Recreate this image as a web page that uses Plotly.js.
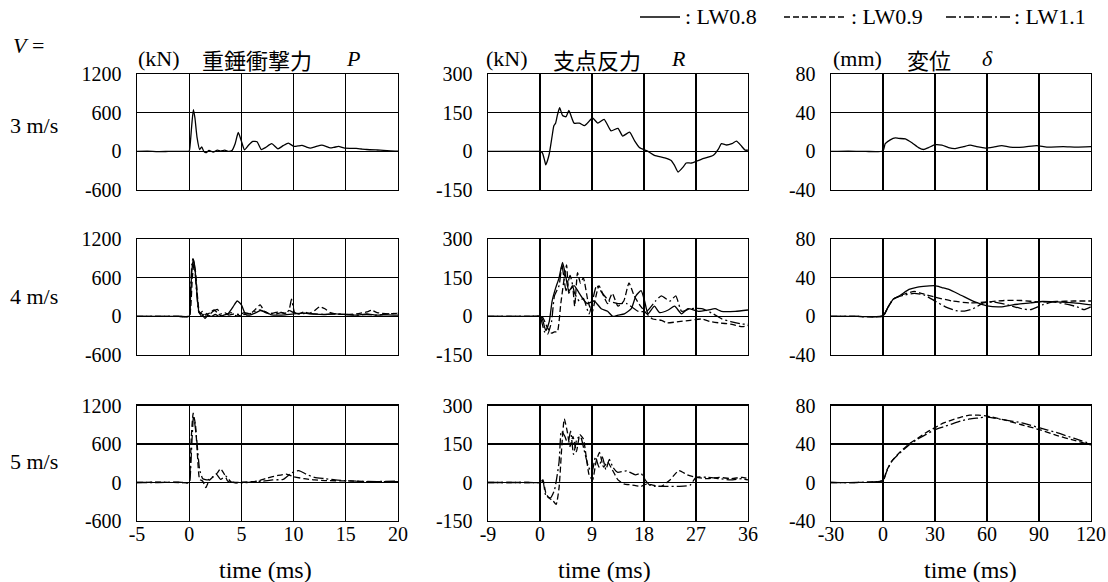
<!DOCTYPE html>
<html>
<head>
<meta charset="utf-8">
<script src="https://cdn.plot.ly/plotly-3.0.1.min.js"></script>
<style>html,body{margin:0;padding:0;background:#fff;}#chart{width:1108px;height:582px;}</style>
</head>
<body>
<div id="chart"></div>
<script>
// ---------- tick labels ----------
const xTicksP = [-5, 0, 5, 10, 15, 20];
const xTicksR = [-9, 0, 9, 18, 27, 36];
const xTicksD = [-30, 0, 30, 60, 90, 120];
const yTicksP = [-600, 0, 600, 1200];
const yTicksR = [-150, 0, 150, 300];
const yTicksD = [-40, 0, 40, 80];
const rowLabels = ["3 m/s", "4 m/s", "5 m/s"];
const seriesNames = [": LW0.8", ": LW0.9", ": LW1.1"];

// ---------- V = 3 m/s (LW0.8) ----------
const p3_t = [-5,-4,-3,-2,-1,-0.3,0,0.1,0.25,0.4,0.55,0.75,1.0,1.2,1.4,1.6,1.9,2.3,2.7,3.0,3.4,3.8,4.1,4.4,4.7,5.0,5.3,5.7,6.1,6.5,6.9,7.3,7.9,8.5,9.0,9.5,10.0,10.4,10.8,11.2,11.6,12.1,12.7,13.1,13.5,13.9,14.3,14.9,15.5,16.0,16.5,17.0,18.0,18.6,19.3,20];
const p3_lw08 = [0,3,-3,0,2,0,5,120,420,650,520,220,30,70,0,-20,15,-10,20,5,20,0,15,120,295,160,25,100,155,150,30,60,120,40,90,130,80,85,93,70,52,75,98,80,55,65,78,50,48,47,38,30,22,18,10,5];

const r3_t = [-9,-6,-3,-1,0,0.4,0.8,1.0,1.3,1.6,2.1,2.4,2.7,3.0,3.4,3.9,4.5,5.0,5.5,5.9,6.8,7.7,8.2,9.1,10.0,11.1,12.3,13.5,14.3,15.5,16.4,17.2,18.7,19.8,21.6,22.7,23.3,23.9,24.8,25.3,26.2,28.0,30.0,30.9,31.4,32.3,33.2,34.0,34.9,35.5,36];
const r3_lw08 = [0,0,0,0,0,-5,-35,-52,-35,-10,60,100,110,140,170,140,135,160,130,110,110,100,110,130,110,125,80,90,60,75,40,15,0,-15,-25,-35,-55,-80,-60,-45,-45,-30,-15,10,30,25,30,40,20,5,5];

const d3_t = [-30,-20,-10,0,1.3,4.2,7.1,9,12.9,16.7,20.5,23.4,26.3,30.1,34,37.8,41.7,46.5,50.3,54,59,63.7,68.5,73.3,81,88.7,94.5,104,111.7,120];
const d3_lw08 = [0,0.3,0,0.5,8,12,14,13.5,13,9,4,2,4,7,6.5,4,3,5,6.5,5,3.5,4.5,6,4.5,4.5,6,4.5,5,4.5,5];

// ---------- V = 4 m/s ----------
const p4_lw08_t = [-5,-3,-1,0,0.1,0.25,0.4,0.55,0.75,0.95,1.2,1.5,1.8,2.1,2.5,2.9,3.3,3.7,4.2,4.6,5.0,5.4,5.8,6.3,6.8,7.3,7.8,8.5,9.2,10,11,12,13,14,15,16,17,18,19,20];
const p4_lw08 = [0,2,0,5,200,700,890,750,350,60,40,-30,20,0,30,0,20,40,150,240,180,30,20,50,90,70,30,20,25,40,50,35,30,40,30,20,40,20,25,20];
const p4_lw09_t = [-5,-3,-1,0,0.15,0.3,0.45,0.6,0.8,1.0,1.3,1.6,2.0,2.4,2.8,3.2,3.6,4.0,4.5,5.0,5.5,6.0,6.4,6.8,7.2,7.7,8.2,8.7,9.2,9.6,10.0,10.5,11,11.5,12,12.5,13,13.5,14,15,16,17,17.5,18,19,20];
const p4_lw09 = [0,0,0,0,150,600,820,700,300,50,80,20,60,100,40,0,30,60,10,20,40,60,120,180,80,40,60,70,50,90,60,40,70,50,90,150,120,60,40,30,40,70,95,60,40,50];
const p4_lw11_t = [-5,-3,-1,0,0.1,0.25,0.35,0.5,0.7,0.9,1.2,1.5,1.9,2.3,2.7,3.0,3.4,3.8,4.3,4.8,5.3,5.8,6.3,6.8,7.3,7.8,8.3,8.8,9.3,9.6,9.8,10.1,10.6,11.2,12,13,14,15,16,17,18,19,20];
const p4_lw11 = [0,0,0,5,300,800,900,800,400,80,0,50,30,80,110,40,60,20,40,30,60,40,80,100,60,50,40,60,40,120,270,60,40,50,40,30,40,30,20,30,20,40,50];

const r4_lw08_t = [-9,-5,-2,0,0.4,1.0,1.6,2.1,2.7,3.3,3.9,4.5,5.0,5.9,6.8,7.7,8.2,9.4,10.6,11.7,12.6,13.5,14.6,15.8,16.6,17.5,18.1,18.7,19.8,20.7,22.2,23.3,24.5,25.6,27.4,29.1,30.3,31.4,33.8,36];
const r4_lw08 = [0,0,0,0,-10,-55,-20,60,110,150,210,150,100,120,90,60,50,60,30,20,0,5,10,30,80,100,60,10,40,15,25,40,10,30,20,25,30,20,20,25];
const r4_lw09_t = [-9,-5,-2,0,0.5,1.2,2.0,2.5,3.0,3.6,4.2,4.6,5.0,5.6,6.0,6.5,7.0,7.5,8.3,9.0,9.5,10.2,11.0,11.7,12.5,13.5,14.5,15.4,16.3,17.4,18.5,19.5,21,22,24,26,28,29.5,31,33,35,36];
const r4_lw09 = [0,0,0,0,-5,-40,-65,-60,-60,50,150,200,90,120,40,170,130,150,60,15,60,120,80,50,90,40,60,130,80,40,10,-10,-15,-25,-20,-15,-10,-20,-25,-30,-40,-35];
const r4_lw11_t = [-9,-5,-2,0,0.4,0.8,1.3,2.0,2.5,3.3,3.8,4.5,5.2,6.0,6.8,7.5,8.5,9.8,10.8,12,13.5,15,17,18.5,20,21,22.5,23.5,24.5,26,28,30,31.5,33,35,36];
const r4_lw11 = [0,0,0,0,-30,-60,-70,-20,80,120,200,100,160,90,60,70,10,120,90,60,50,50,20,20,60,80,60,80,20,30,30,10,-10,-20,-30,-30];

const d4_lw08_t = [-30,-15,0,3,6,10,15,20,25,30,34,38,45,53,60,68,75,85,92,100,110,120];
const d4_lw08 = [0,0,0.5,10,18,22,28,30.5,31.5,32,30,28,22,15,11,10,12,14,15.5,15,14,12];
const d4_lw09_t = [-30,-15,0,3,6,12,18,22,30,40,50,60,70,80,90,100,110,120];
const d4_lw09 = [0,0,0.5,10,18,23,26,24,20,16,14,15,16.5,16.5,15,15.5,16,16];
const d4_lw11_t = [-30,-15,0,3,6,12,18,24,30,36,42,47,52,58,64,72,80,85,92,98,105,112,116,120];
const d4_lw11 = [0,0,0.5,10,18,22,24,22,16,10,6,5.5,8,14,15,12,8,7,12,15,13,10,7,10];

// ---------- V = 5 m/s ----------
const p5_lw09_t = [-5,-3,-1,0,0.05,0.2,0.38,0.6,0.8,1.0,1.3,1.6,1.9,2.3,2.7,3.0,3.4,3.7,4.5,5.5,6.5,7.5,8.5,9.3,10,11,12,13,15,17,20];
const p5_lw09 = [0,5,0,0,50,700,1080,900,400,50,20,-80,30,90,150,215,120,20,0,10,20,70,110,130,90,60,40,30,25,15,15];
const p5_lw11_t = [-5,-3,-1,0,0.1,0.25,0.42,0.7,1.0,1.3,1.8,2.2,2.6,3.0,3.5,4,5,6,7,8,9,9.8,10.5,11.2,12,13,14,16,18,20];
const p5_lw11 = [0,0,5,0,100,600,1040,700,200,60,40,80,130,50,100,10,-10,10,20,40,50,150,185,130,80,60,40,20,15,20];

const r5_lw09_t = [-9,-5,-2,0,0.5,1.0,1.5,2.2,2.8,3.3,3.8,4.2,4.7,5.2,5.7,6.3,6.9,7.5,8.0,8.5,9.1,9.7,10.3,11,11.7,12.5,13.5,14.5,16,17.5,18.5,19.5,21,22.5,24,25.5,27,29,31,33,35,36];
const r5_lw09 = [0,0,0,0,10,-40,-60,-70,-85,-20,150,248,200,140,180,120,186,170,100,30,10,80,117,60,80,50,10,-5,-10,-15,-5,-10,-15,10,46,30,20,15,20,15,20,15];
const r5_lw11_t = [-9,-5,-2,0,0.5,1.0,1.8,2.5,3.3,3.7,4.3,4.8,5.3,5.8,6.4,7.0,7.6,8.4,9.0,9.6,10.2,10.8,11.4,12.0,12.6,13.4,15,16.5,17.5,18.2,19,20,22,24,26,27,29,31,33,35,36];
const r5_lw11 = [0,0,0,0,5,-50,-60,-30,80,200,180,150,200,110,170,180,130,60,40,100,60,100,50,90,60,40,45,30,35,10,-10,-15,-15,-15,-10,20,20,15,10,15,10];

const d5_t = [-30,-15,0,2,5,10,15,20,25,30,35,40,45,50,55,60,70,80,90,100,110,120];
const d5_lw09 = [0,0,2,12,22,32,40,46,52,57,62,65,68,70,70,69,65,60,55,49,44,39];
const d5_lw11 = [0,0,2,11,22,31,39,45,50,55,58,61,64,66,67,68,65,62,57,52,46,40];

// ---------- styling ----------
const DASH = {lw08: "solid", lw09: "6px,3px", lw11: "10px,3px,2px,3px"};
const W = 1108, H = 582;
const colPx = [[137, 398], [488, 748], [831, 1091]];
const rowPx = [[74.3, 190], [239.3, 355], [405.5, 521]];
const serif = "Liberation Serif, Times New Roman, serif";
const cjk = "Noto Sans CJK JP, Noto Sans CJK SC, sans-serif";

function trace(x, y, ax, style, name) {
  return {
    x: x, y: y, xaxis: "x" + (ax === 1 ? "" : ax), yaxis: "y" + (ax === 1 ? "" : ax),
    type: "scatter", mode: "lines", name: name, showlegend: false,
    line: {color: "#000", width: 1.3, dash: DASH[style], shape: "spline", smoothing: 0.5},
    hoverinfo: "skip"
  };
}

const data = [
  trace(p3_t, p3_lw08, 1, "lw08", "LW0.8"),
  trace(r3_t, r3_lw08, 2, "lw08", "LW0.8"),
  trace(d3_t, d3_lw08, 3, "lw08", "LW0.8"),
  trace(p4_lw08_t, p4_lw08, 4, "lw08", "LW0.8"),
  trace(p4_lw09_t, p4_lw09, 4, "lw09", "LW0.9"),
  trace(p4_lw11_t, p4_lw11, 4, "lw11", "LW1.1"),
  trace(r4_lw08_t, r4_lw08, 5, "lw08", "LW0.8"),
  trace(r4_lw09_t, r4_lw09, 5, "lw09", "LW0.9"),
  trace(r4_lw11_t, r4_lw11, 5, "lw11", "LW1.1"),
  trace(d4_lw08_t, d4_lw08, 6, "lw08", "LW0.8"),
  trace(d4_lw09_t, d4_lw09, 6, "lw09", "LW0.9"),
  trace(d4_lw11_t, d4_lw11, 6, "lw11", "LW1.1"),
  trace(p5_lw09_t, p5_lw09, 7, "lw09", "LW0.9"),
  trace(p5_lw11_t, p5_lw11, 7, "lw11", "LW1.1"),
  trace(r5_lw09_t, r5_lw09, 8, "lw09", "LW0.9"),
  trace(r5_lw11_t, r5_lw11, 8, "lw11", "LW1.1"),
  trace(d5_t, d5_lw09, 9, "lw09", "LW0.9"),
  trace(d5_t, d5_lw11, 9, "lw11", "LW1.1")
];

const xTickSets = [xTicksP, xTicksR, xTicksD];
const yTickSets = [yTicksP, yTicksR, yTicksD];
const lbl = v => v.map(n => String(n));

const layout = {
  width: W, height: H,
  margin: {l: 0, r: 0, t: 0, b: 0},
  paper_bgcolor: "#fff", plot_bgcolor: "#fff",
  font: {family: serif, color: "#000", size: 20},
  showlegend: false,
  annotations: [], shapes: []
};

for (let r = 0; r < 3; r++) {
  for (let c = 0; c < 3; c++) {
    const k = r * 3 + c + 1;
    const xs = xTickSets[c], ys = yTickSets[c];
    const common = {
      showline: true, mirror: true, linecolor: "#000", linewidth: 1.4,
      showgrid: true, gridcolor: "#000", gridwidth: 1.1, zeroline: false,
      ticks: "", tickmode: "array", fixedrange: true,
      tickfont: {family: serif, size: 20, color: "#000"}
    };
    layout["xaxis" + (k === 1 ? "" : k)] = Object.assign({}, common, {
      domain: [colPx[c][0] / W, colPx[c][1] / W],
      range: [xs[0], xs[xs.length - 1]],
      tickvals: xs, ticktext: lbl(xs),
      showticklabels: r === 2, ticklabelstandoff: -5,
      anchor: "y" + (k === 1 ? "" : k)
    });
    layout["yaxis" + (k === 1 ? "" : k)] = Object.assign({}, common, {
      domain: [1 - rowPx[r][1] / H, 1 - rowPx[r][0] / H],
      range: [ys[0], ys[ys.length - 1]],
      tickvals: ys, ticktext: lbl(ys),
      ticklabelstandoff: 10,
      anchor: "x" + (k === 1 ? "" : k)
    });
  }
}

function ann(text, xpx, ypx, font, xanchor) {
  layout.annotations.push({
    text: text, xref: "paper", yref: "paper", x: xpx / W, y: 1 - ypx / H,
    xanchor: xanchor || "left", yanchor: "middle", showarrow: false, font: font
  });
}
const fSerif = {family: serif, size: 22, color: "#000"};
const fCjk = {family: cjk, size: 22, color: "#000"};

ann("<i>V</i> =", 11, 46, fSerif);
rowLabels.forEach((t, i) => ann(t, 8, [125, 296.7, 461.7][i], fSerif));

ann("(kN)", 136, 59, fSerif); ann("重錘衝撃力", 200, 59, fCjk); ann("<i>P</i>", 344, 59, fSerif);
ann("(kN)", 484, 59, fSerif); ann("支点反力", 551, 59, fCjk); ann("<i>R</i>", 669, 59, fSerif);
ann("(mm)", 831, 59, fSerif); ann("変位", 905, 59, fCjk); ann("<i>δ</i>", 980, 59, fSerif);

[265, 604, 970].forEach(x => ann("time (ms)", x, 570, {family: serif, size: 24, color: "#000"}, "center"));

// legend (line samples + labels)
const legLines = [[640, 680, "lw08"], [784, 847, "lw09"], [946, 1010, "lw11"]];
const legText = [683, 849, 1012];
legLines.forEach((L, i) => {
  layout.shapes.push({
    type: "line", xref: "paper", yref: "paper",
    x0: L[0] / W, x1: L[1] / W, y0: 1 - 17 / H, y1: 1 - 17 / H,
    line: {color: "#000", width: 1.3, dash: DASH[L[2]]}
  });
  ann(seriesNames[i], legText[i], 16, fSerif);
});

Plotly.newPlot("chart", data, layout, {staticPlot: true, displayModeBar: false});
</script>
</body>
</html>
